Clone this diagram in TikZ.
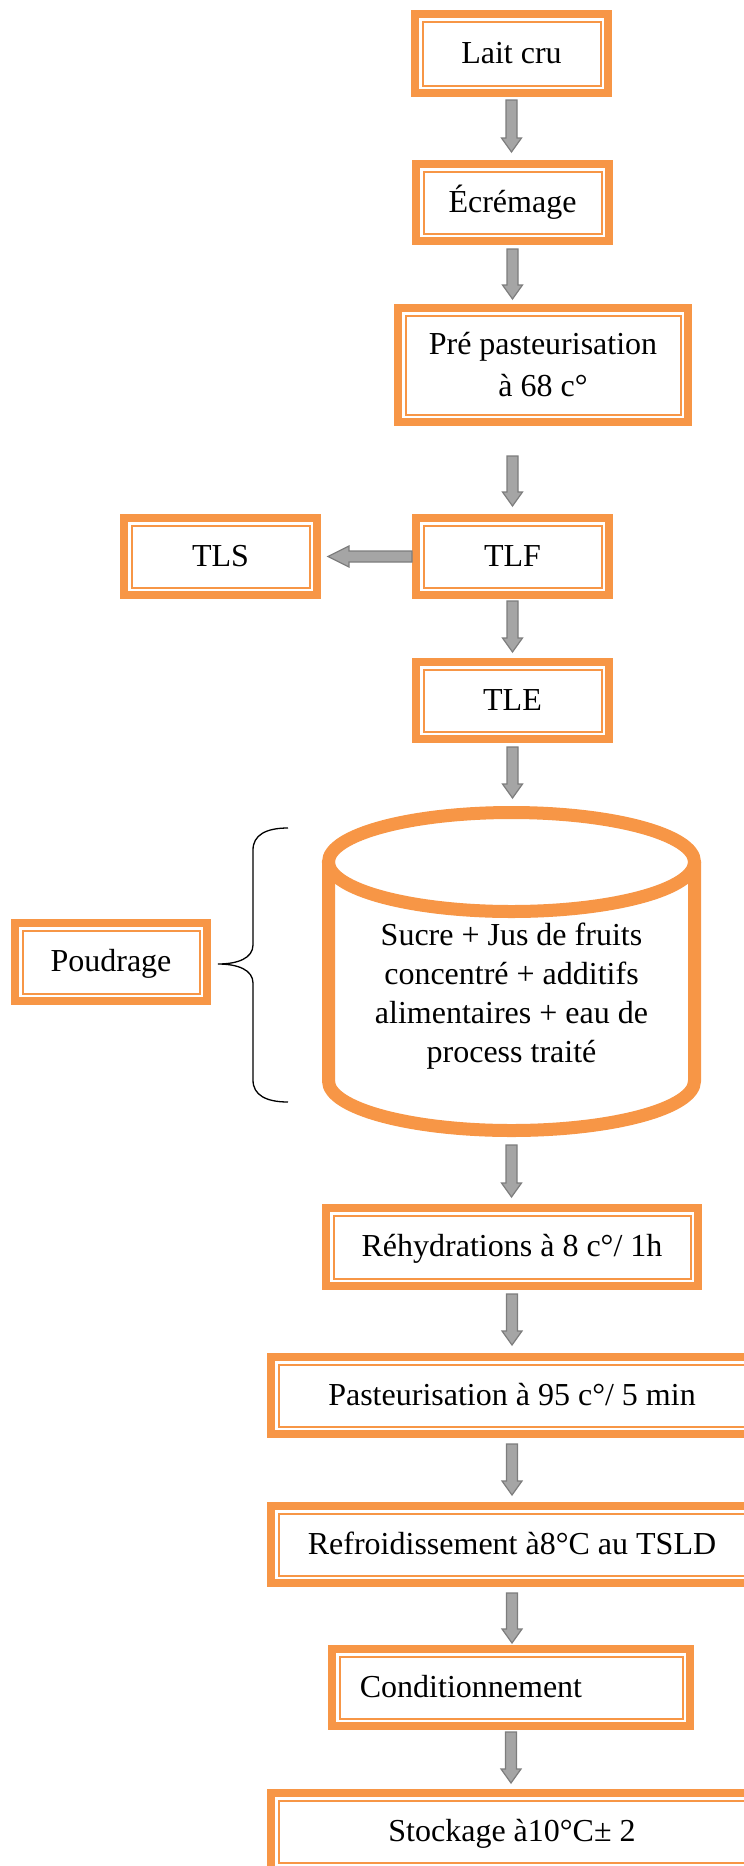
\documentclass[tikz,border=0pt]{standalone}
\usepackage{fontspec}
\setmainfont{Liberation Serif}
\usetikzlibrary{calc}
\definecolor{orng}{RGB}{247,150,70}
\definecolor{arrfill}{RGB}{165,165,165}
\definecolor{arrline}{RGB}{125,125,125}
\tikzset{
  bx/.style={draw=orng, line width=8pt, fill=white, inner sep=0pt, align=center,
    font=\fontsize{32pt}{42pt}\selectfont,
    path picture={\draw[orng, line width=2pt]
      ([shift={(7.5pt,-7.5pt)}]path picture bounding box.north west) rectangle
      ([shift={(-7.5pt,7.5pt)}]path picture bounding box.south east);}},
  sbx/.style={bx, text height=23pt, text depth=4pt},
  arrowst/.style={fill=arrfill, draw=arrline, line width=1.2pt, line join=miter},
  cyltext/.style={align=center, inner sep=0pt, font=\fontsize{32pt}{39pt}\selectfont},
  bracest/.style={draw=black, line width=1.3pt}
}
\newcommand\varrow[2]{\path[arrowst] let \p1=#1, \p2=#2 in
  (\x1-5.5pt,\y1) -- (\x1+5.5pt,\y1) -- (\x1+5.5pt,\y2+14pt) -- (\x1+10pt,\y2+14pt)
  -- (\x1,\y2) -- (\x1-10pt,\y2+14pt) -- (\x1-5.5pt,\y2+14pt) -- cycle;}
\newcommand\harrow[2]{\path[arrowst] let \p1=#1, \p2=#2 in
  (\x1,\y1-5.5pt) -- (\x1,\y1+5.5pt) -- (\x2+21pt,\y1+5.5pt) -- (\x2+21pt,\y1+10.5pt)
  -- (\x2,\y1) -- (\x2+21pt,\y1-10.5pt) -- (\x2+21pt,\y1-5.5pt) -- cycle;}
\begin{document}
\begin{tikzpicture}[x=1pt,y=-1pt]
\useasboundingbox (0,0) rectangle (744,1866);
\clip (0,0) rectangle (744,1866);

% boxes
\node[sbx, minimum width=193pt, minimum height=79pt] (lait) at (511.5,53.5) {Lait cru};
\node[sbx, minimum width=193pt, minimum height=77pt] (ecr) at (512.5,202.5) {Écrémage};
\node[bx, minimum width=290pt, minimum height=114pt] (pre) at (543,365) {Pré pasteurisation\\à 68 c°};
\node[sbx, minimum width=193pt, minimum height=77pt] (tlf) at (512.5,556.5) {TLF};
\node[sbx, minimum width=193pt, minimum height=77pt] (tls) at (220.5,556.5) {TLS};
\node[sbx, minimum width=193pt, minimum height=77pt] (tle) at (512.5,700.5) {TLE};

% cylinder
\path[draw=orng, line width=13pt, fill=white] (328.5,862) -- (328.5,1081)
  arc[start angle=180, end angle=360, x radius=183pt, y radius=49.5pt] -- (694.5,862);
\draw[orng, line width=13pt, fill=white] (511.5,862) ellipse [x radius=183pt, y radius=49.5pt];
\coordinate (cyltop) at (511.5,806);
\coordinate (cylbot) at (511.5,1137);
\node[cyltext] (cyl) at (511.5,996) {Sucre + Jus de fruits\\concentré + additifs\\alimentaires + eau de\\process traité};

\node[sbx, minimum width=192pt, minimum height=78pt] (poud) at (111,962) {Poudrage};
\node[sbx, minimum width=372pt, minimum height=78pt] (rehyd) at (512,1247) {Réhydrations à 8 c°/ 1h};
\node[sbx, minimum width=482pt, minimum height=77pt] (past) at (512,1395.5) {Pasteurisation à 95 c°/ 5 min};
\node[sbx, minimum width=482pt, minimum height=77pt] (refr) at (512,1544.5) {Refroidissement à8°C au TSLD};
\node[sbx, minimum width=358pt, minimum height=77pt] (cond) at (511,1687.5) {Conditionnement\hspace*{80pt}};
\node[sbx, minimum width=482pt, minimum height=77pt] (stock) at (512,1831.5) {Stockage à10°C± 2};

% brace
\coordinate (btip) at (218,964);
\draw[bracest] (288,828) .. controls (266,828) and (253,835) .. (253,850) -- (253,945)
  .. controls (253,958) and (238,964) .. (btip)
  .. controls (238,964) and (253,970) .. (253,983) -- (253,1080)
  .. controls (253,1095) and (266,1102) .. (288,1102);

% arrows
\varrow{($(lait.south)+(0,3)$)}{($(ecr.north)+(0,-8)$)}
\varrow{($(ecr.south)+(0,4)$)}{($(ecr.south |- pre.north)+(0,-5)$)}
\varrow{($(tlf.north |- pre.south)+(0,30)$)}{($(tlf.north)+(0,-8)$)}
\varrow{($(tlf.south)+(0,2)$)}{($(tle.north)+(0,-6)$)}
\varrow{($(tle.south)+(0,4)$)}{($(cyltop)+(0,-8)$)}
\varrow{($(cylbot)+(0,8)$)}{($(rehyd.north)+(0,-7)$)}
\varrow{($(rehyd.south)+(0,4)$)}{($(past.north)+(0,-8)$)}
\varrow{($(past.south)+(0,6)$)}{($(refr.north)+(0,-7)$)}
\varrow{($(refr.south)+(0,6)$)}{($(cond.north)+(0,-2)$)}
\varrow{($(cond.south)+(0,2)$)}{($(stock.north)+(0,-6)$)}
\harrow{(tlf.west)}{($(tls.east)+(7,0)$)}
\end{tikzpicture}
\end{document}
